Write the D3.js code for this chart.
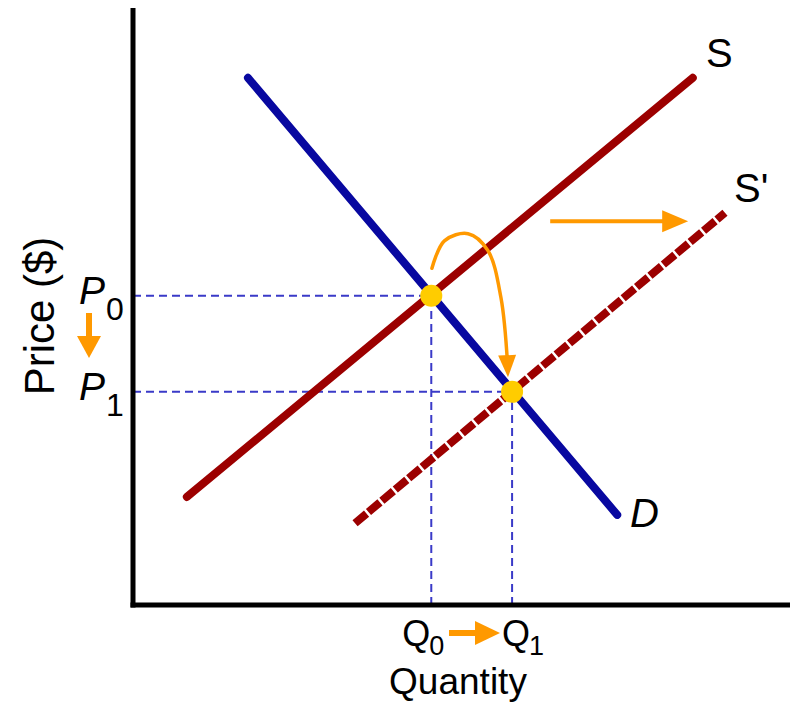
<!DOCTYPE html>
<html><head><meta charset="utf-8">
<script src="https://cdn.jsdelivr.net/npm/d3@7"></script>
<style>html,body{margin:0;padding:0;background:#fff;}svg{display:block;}</style>
</head><body>
<svg id="c" width="792" height="709"></svg>
<script>
// Data (domain units: quantity 0..100, price 0..100)
const demandPts = [[17.5, 88.3], [73.7, 15.1]];
const supplyPts = [[8.2, 18.1], [85.2, 88.3]];
const supplyNewPts = [[33.8, 13.7], [90.1, 65.7]];
const equilibria = [[45.4, 51.8], [57.7, 35.7]];
const shiftArrow = [[63.5, 64.3], [84.5, 64.3]];
const moveCurve = [[45.5, 56.4], [47.4, 61.0], [51.0, 62.2], [54.0, 59.4], [56.0, 51.5], [57.0, 40.5]];
const curveNames = ["S", "S'", "D"];
const priceLabels = ["0", "1"];
const qtyLabels = ["0", "1"];

const svg = d3.select("#c");
const x = d3.scaleLinear().domain([0, 100]).range([133, 790]);
const y = d3.scaleLinear().domain([0, 100]).range([605, 8]);
const line = d3.line().x(d => x(d[0])).y(d => y(d[1]));
const font = "'Liberation Sans', Arial, sans-serif";
const orange = "#ff9900";

function arrowHead(g, tip, angle, len, wid) {
  const ca = Math.cos(angle), sa = Math.sin(angle);
  const bx = tip[0] - ca * len, by = tip[1] - sa * len;
  const px = -sa * wid / 2, py = ca * wid / 2;
  g.append("path")
    .attr("d", `M${tip[0]},${tip[1]}L${bx + px},${by + py}L${bx - px},${by - py}Z`)
    .attr("fill", orange);
}

// guides
const guides = svg.append("g").attr("stroke", "#3a3ac8").attr("stroke-width", 2)
  .attr("stroke-dasharray", "8,5").attr("fill", "none");
equilibria.forEach(e => {
  guides.append("path").attr("d", line([[0, e[1]], e]));
  guides.append("path").attr("d", line([[e[0], 0], e]));
});

// supply curves
svg.append("path").attr("d", line(supplyPts)).attr("stroke", "#9c0000")
  .attr("stroke-width", 8).attr("fill", "none").attr("stroke-linecap", "round");
svg.append("path").attr("d", line(supplyNewPts)).attr("stroke", "#9c0000")
  .attr("stroke-width", 8).attr("fill", "none").attr("stroke-dasharray", "15,2.5");
// demand
svg.append("path").attr("d", line(demandPts)).attr("stroke", "#0808a0")
  .attr("stroke-width", 8).attr("fill", "none").attr("stroke-linecap", "round");

// axes
const axes = svg.append("g").attr("stroke", "#000").attr("stroke-width", 5).attr("fill", "none");
axes.append("path").attr("d", `M${x(0)},${y(100)}V${y(0) + 2.5}`);
axes.append("path").attr("d", `M${x(0) - 2.5},${y(0)}H${x(100)}`);

// equilibrium points
svg.selectAll("circle.eq").data(equilibria).join("circle").attr("class", "eq")
  .attr("cx", d => x(d[0])).attr("cy", d => y(d[1])).attr("r", 11).attr("fill", "#ffcc00");

// orange arrows
const arr = svg.append("g");
arr.append("path").attr("d", line([shiftArrow[0], [shiftArrow[1][0] - 3, shiftArrow[1][1]]]))
  .attr("stroke", orange).attr("stroke-width", 4).attr("fill", "none");
arrowHead(arr, [x(shiftArrow[1][0]), y(shiftArrow[1][1])], 0, 26, 22);

const cl = d3.line().x(d => x(d[0])).y(d => y(d[1])).curve(d3.curveCatmullRom);
arr.append("path").attr("d", cl(moveCurve)).attr("stroke", orange).attr("stroke-width", 3.5)
  .attr("fill", "none").attr("stroke-linecap", "round");
const last = moveCurve[moveCurve.length - 1];
arrowHead(arr, [x(last[0]) + 0.5, y(last[1]) + 14], Math.PI / 2 - 0.04, 22, 18);

// P arrow (down)
arr.append("path").attr("d", "M89,313V340").attr("stroke", orange).attr("stroke-width", 6);
arrowHead(arr, [89, 358], Math.PI / 2, 22, 24);
// Q arrow (right)
arr.append("path").attr("d", "M449,633H478").attr("stroke", orange).attr("stroke-width", 6);
arrowHead(arr, [500, 633], 0, 25, 24);

// labels
const t = svg.append("g").attr("font-family", font).attr("fill", "#000");
const namePos = [[706, 67, "normal"], [734, 202, "normal"], [630, 527, "italic"]];
curveNames.forEach((n, i) => {
  t.append("text").attr("x", namePos[i][0]).attr("y", namePos[i][1])
    .attr("font-size", 40).attr("font-style", namePos[i][2]).text(n);
});
const qShift = [-29, -10];
equilibria.forEach((e, i) => {
  const py = y(e[1]);
  t.append("text").attr("x", 79).attr("y", py + 8).attr("font-size", 39)
    .attr("font-style", "italic").text("P");
  t.append("text").attr("x", 106).attr("y", py + 24).attr("font-size", 32).text(priceLabels[i]);
  const qx = x(e[0]) + qShift[i];
  t.append("text").attr("x", qx).attr("y", 646).attr("font-size", 36).text("Q");
  t.append("text").attr("x", qx + 27).attr("y", 655).attr("font-size", 27).text(qtyLabels[i]);
});
t.append("text").attr("x", 458).attr("y", 694).attr("font-size", 37)
  .attr("text-anchor", "middle").text("Quantity");
t.append("text").attr("transform", "translate(54,316) rotate(-90)").attr("font-size", 42)
  .attr("text-anchor", "middle").text("Price ($)");
</script>
</body></html>
